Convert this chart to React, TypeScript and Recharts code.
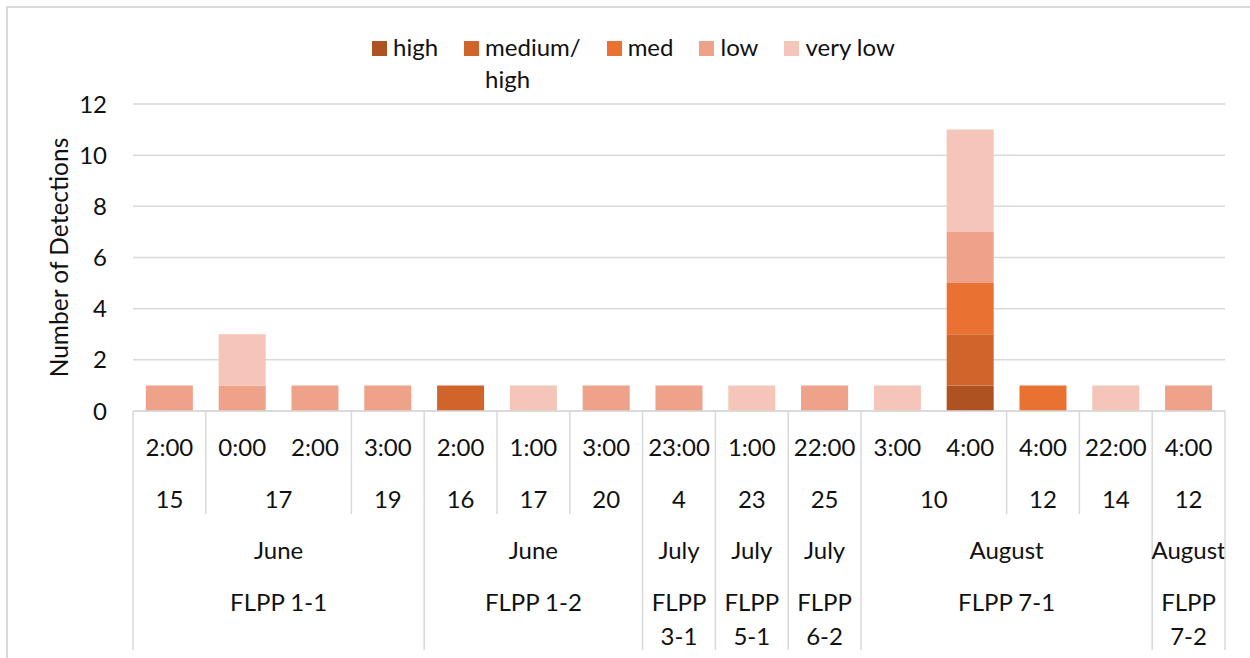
import { Bar, BarChart, CartesianGrid, Legend, XAxis, YAxis } from "recharts"

const sites = ["FLPP 1-1", "FLPP 1-1", "FLPP 1-1", "FLPP 1-1", "FLPP 1-2", "FLPP 1-2", "FLPP 1-2", "FLPP 3-1", "FLPP 5-1", "FLPP 6-2", "FLPP 7-1", "FLPP 7-1", "FLPP 7-1", "FLPP 7-1", "FLPP 7-2"]
const months = ["June", "June", "June", "June", "June", "June", "June", "July", "July", "July", "August", "August", "August", "August", "August"]
const days = ["15", "17", "17", "19", "16", "17", "20", "4", "23", "25", "10", "10", "12", "14", "12"]
const times = ["2:00", "0:00", "2:00", "3:00", "2:00", "1:00", "3:00", "23:00", "1:00", "22:00", "3:00", "4:00", "4:00", "22:00", "4:00"]

const high = [0, 0, 0, 0, 0, 0, 0, 0, 0, 0, 0, 1, 0, 0, 0]
const mediumHigh = [0, 0, 0, 0, 1, 0, 0, 0, 0, 0, 0, 2, 0, 0, 0]
const med = [0, 0, 0, 0, 0, 0, 0, 0, 0, 0, 0, 2, 1, 0, 0]
const low = [1, 1, 1, 1, 0, 0, 1, 1, 0, 1, 0, 2, 0, 0, 1]
const veryLow = [0, 2, 0, 0, 0, 1, 0, 0, 1, 0, 1, 4, 0, 1, 0]

const yTicks = [0, 2, 4, 6, 8, 10, 12]

const series = [
  { key: "high", name: "high", values: high, color: "#AE5221" },
  { key: "mediumHigh", name: "medium/high", values: mediumHigh, color: "#D0652B" },
  { key: "med", name: "med", values: med, color: "#E97132" },
  { key: "low", name: "low", values: low, color: "#EEA28A" },
  { key: "veryLow", name: "very low", values: veryLow, color: "#F4C5B8" },
]

const data = times.map((t, i) => {
  const row: Record<string, string | number> = { idx: String(i), time: t }
  series.forEach((s) => (row[s.key] = s.values[i]))
  return row
})

const FONT = "Lato, 'Open Sans', sans-serif"
const FS = 24
const GRID = "#D9D9D9"
const TEXT = "#111"

// start of a group and its size (consecutive entries sharing a key)
function groupInfo(keyOf: (i: number) => string) {
  const start: number[] = []
  for (let i = 0; i < times.length; i++) {
    if (i > 0 && keyOf(i) === keyOf(i - 1)) start.push(0)
    else {
      let n = 1
      while (i + n < times.length && keyOf(i + n) === keyOf(i)) n++
      start.push(n)
    }
  }
  return start
}
const dayGroups = groupInfo((i) => sites[i] + "|" + months[i] + "|" + days[i])
const siteGroups = groupInfo((i) => sites[i])

function MultiTick(props: any) {
  const { x, y, payload } = props
  const i = payload.index
  const half = payload.offset || 36.4
  const band = half * 2
  const top = y - 8
  const left = x - half
  const els: any[] = []
  const txt = (key: string, tx: number, ty: number, s: string) => (
    <text key={key} x={tx} y={ty} textAnchor="middle" dominantBaseline="central" fontSize={FS} fontFamily={FONT} fill={TEXT}>
      {s}
    </text>
  )
  els.push(txt("t", x, top + 35, times[i]))
  if (dayGroups[i]) {
    els.push(txt("d", left + (dayGroups[i] * band) / 2, top + 87, days[i]))
    const full = siteGroups[i] > 0
    els.push(<line key="dl" x1={left} x2={left} y1={top} y2={top + (full ? 239 : 103)} stroke={GRID} strokeWidth={1.5} />)
  }
  if (siteGroups[i]) {
    const n = siteGroups[i]
    const cx = left + (n * band) / 2
    els.push(txt("m", cx, top + 138, months[i]))
    if (n === 1) {
      const parts = sites[i].split(" ")
      els.push(txt("s1", cx, top + 190, parts[0]))
      els.push(txt("s2", cx, top + 224, parts[1]))
    } else {
      els.push(txt("s", cx, top + 190, sites[i]))
    }
  }
  if (i === times.length - 1) {
    els.push(<line key="end" x1={left + band} x2={left + band} y1={top} y2={top + 239} stroke={GRID} strokeWidth={1.5} />)
  }
  return <g>{els}</g>
}

function LegendBox() {
  return (
    <div style={{ display: "flex", alignItems: "flex-start", fontFamily: FONT, fontSize: FS, lineHeight: "32px", color: TEXT }}>
      {series.map((s) => (
        <div key={s.key} style={{ display: "flex", alignItems: "flex-start", marginRight: 26 }}>
          <span style={{ display: "inline-block", width: 15, height: 15, background: s.color, marginTop: 10, marginRight: 6 }} />
          <span>
            {s.name === "medium/high" ? (
              <>
                medium/
                <br />
                high
              </>
            ) : (
              s.name
            )}
          </span>
        </div>
      ))}
    </div>
  )
}

function YLabel(props: any) {
  const vb = props.viewBox
  const cy = vb.y + vb.height / 2
  return (
    <text x={58} y={cy} transform={`rotate(-90 58 ${cy})`} textAnchor="middle" dominantBaseline="central" fontSize={FS + 0.5} fontFamily={FONT} fill={TEXT}>
      Number of Detections
    </text>
  )
}

export default function App() {
  return (
    <div style={{ position: "absolute", left: 0, top: 0, width: 1250, height: 658, overflow: "hidden", background: "#fff" }}>
      <div style={{ position: "absolute", left: 6, top: 6, width: 1260, height: 700, border: `2px solid ${GRID}` }} />
      <BarChart width={1250} height={658} data={data} margin={{ top: 104, right: 25, left: 0, bottom: 7 }} barCategoryGap="17.7%" style={{ fontFamily: FONT }}>
        <CartesianGrid vertical={false} stroke={GRID} strokeWidth={1.5} />
        <XAxis dataKey="idx" height={240} interval={0} tickLine={false} tickSize={6} tickMargin={2} axisLine={{ stroke: GRID, strokeWidth: 1.5 }} tick={<MultiTick />} />
        <YAxis width={133} domain={[0, 12]} ticks={yTicks} axisLine={false} tickLine={false} tickMargin={20} tick={{ fontSize: FS, fill: TEXT, fontFamily: FONT }} label={<YLabel />} />
        <Legend verticalAlign="middle" align="center" layout="horizontal" wrapperStyle={{ top: 31, left: 372, width: "auto" }} content={<LegendBox />} />
        {series.map((s) => (
          <Bar key={s.key} dataKey={s.key} name={s.name} stackId="a" fill={s.color} isAnimationActive={false} />
        ))}
      </BarChart>
    </div>
  )
}
